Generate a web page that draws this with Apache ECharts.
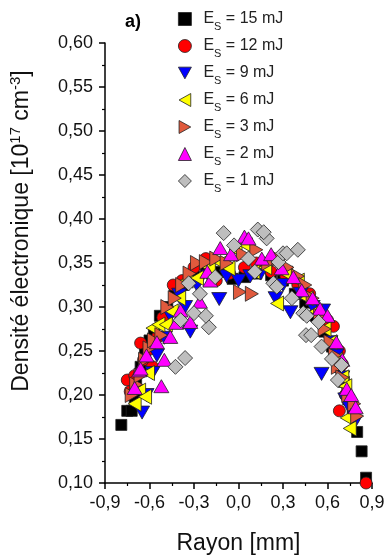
<!DOCTYPE html>
<html>
<head>
<meta charset="utf-8">
<script src="https://cdn.jsdelivr.net/npm/echarts@6/dist/echarts.min.js"></script>
<style>html,body{margin:0;padding:0;background:#fff}#c{width:388px;height:560px}</style>
</head>
<body>
<div id="c"></div>
<script>
const seriesNames = ['15 mJ', '12 mJ', '9 mJ', '6 mJ', '3 mJ', '2 mJ', '1 mJ'];
const xTicks = [-0.9, -0.6, -0.3, 0.0, 0.3, 0.6, 0.9];
const yTicks = [0.10, 0.15, 0.20, 0.25, 0.30, 0.35, 0.40, 0.45, 0.50, 0.55, 0.60];

const s15 = [[-0.79,0.166],[-0.75,0.182],[-0.72,0.182],[-0.70,0.197],[-0.69,0.212],[-0.66,0.232],[-0.63,0.25],[-0.60,0.262],[-0.57,0.27],[-0.53,0.29],[-0.48,0.30],[-0.43,0.315],[-0.37,0.325],[-0.30,0.335],[-0.22,0.342],[-0.12,0.34],[-0.04,0.332],[0.04,0.334],[0.12,0.338],[0.22,0.336],[0.30,0.33],[0.38,0.315],[0.45,0.305],[0.52,0.29],[0.58,0.272],[0.63,0.255],[0.68,0.232],[0.71,0.215],[0.74,0.195],[0.77,0.18],[0.80,0.158],[0.83,0.136],[0.86,0.106]];
const s12 = [[-0.75,0.217],[-0.73,0.204],[-0.70,0.222],[-0.66,0.259],[-0.64,0.24],[-0.60,0.252],[-0.58,0.232],[-0.55,0.265],[-0.51,0.288],[-0.44,0.325],[-0.38,0.33],[-0.30,0.345],[-0.22,0.355],[-0.15,0.33],[-0.06,0.338],[0.04,0.345],[0.12,0.35],[0.22,0.34],[0.32,0.335],[0.40,0.325],[0.48,0.315],[0.54,0.295],[0.60,0.285],[0.64,0.278],[0.68,0.25],[0.70,0.235],[0.68,0.182],[0.72,0.2],[0.76,0.19],[0.86,0.100]];
const s9 = [[-0.65,0.18],[-0.62,0.2],[-0.58,0.225],[-0.55,0.245],[-0.50,0.265],[-0.46,0.29],[-0.40,0.314],[-0.36,0.30],[-0.325,0.272],[-0.28,0.325],[-0.20,0.335],[-0.13,0.309],[-0.08,0.335],[0.0,0.33],[0.08,0.335],[0.15,0.338],[0.25,0.31],[0.30,0.325],[0.35,0.294],[0.42,0.315],[0.50,0.30],[0.57,0.296],[0.56,0.224],[0.62,0.26],[0.66,0.245],[0.70,0.22],[0.72,0.195],[0.75,0.185],[0.78,0.168]];
const s6 = [[-0.70,0.19],[-0.67,0.205],[-0.63,0.198],[-0.61,0.225],[-0.58,0.276],[-0.54,0.28],[-0.49,0.28],[-0.45,0.295],[-0.40,0.31],[-0.35,0.33],[-0.28,0.333],[-0.20,0.345],[-0.12,0.35],[-0.067,0.344],[-0.02,0.365],[0.05,0.37],[0.10,0.34],[0.18,0.345],[0.26,0.304],[0.32,0.338],[0.40,0.33],[0.46,0.31],[0.52,0.295],[0.58,0.275],[0.62,0.26],[0.66,0.24],[0.70,0.22],[0.72,0.21],[0.73,0.174],[0.75,0.162]];
const s3 = [[-0.72,0.2],[-0.69,0.212],[-0.66,0.222],[-0.63,0.24],[-0.60,0.253],[-0.57,0.262],[-0.52,0.268],[-0.48,0.3],[-0.43,0.31],[-0.38,0.325],[-0.33,0.338],[-0.28,0.35],[-0.22,0.351],[-0.15,0.355],[-0.08,0.35],[0.01,0.317],[0.03,0.36],[0.09,0.315],[0.12,0.365],[0.20,0.35],[0.27,0.355],[0.33,0.345],[0.40,0.335],[0.45,0.325],[0.50,0.31],[0.55,0.29],[0.58,0.275],[0.62,0.26],[0.65,0.245],[0.67,0.232],[0.70,0.22],[0.74,0.2],[0.78,0.19],[0.80,0.176]];
const s2 = [[-0.70,0.208],[-0.67,0.228],[-0.66,0.23],[-0.62,0.245],[-0.52,0.21],[-0.55,0.26],[-0.50,0.24],[-0.46,0.266],[-0.42,0.282],[-0.39,0.296],[-0.325,0.283],[-0.26,0.306],[-0.21,0.34],[-0.19,0.33],[-0.123,0.367],[-0.05,0.36],[0.04,0.38],[0.067,0.378],[0.157,0.355],[0.22,0.36],[0.29,0.344],[0.37,0.334],[0.426,0.319],[0.50,0.31],[0.55,0.298],[0.60,0.29],[0.66,0.26],[0.70,0.24],[0.73,0.207],[0.76,0.2],[0.79,0.186]];
const s1 = [[-0.425,0.232],[-0.36,0.242],[-0.39,0.285],[-0.336,0.327],[-0.30,0.293],[-0.26,0.315],[-0.20,0.277],[-0.22,0.29],[-0.157,0.334],[-0.10,0.384],[-0.03,0.37],[0.067,0.355],[0.11,0.34],[0.13,0.388],[0.19,0.378],[0.17,0.385],[0.235,0.327],[0.258,0.323],[0.27,0.351],[0.30,0.361],[0.325,0.361],[0.36,0.31],[0.40,0.365],[0.437,0.293],[0.46,0.29],[0.455,0.268],[0.49,0.268],[0.54,0.283],[0.56,0.255],[0.63,0.241],[0.67,0.217],[0.695,0.234]];

const seriesData = [s15, s12, s9, s6, s3, s2, s1];
const colors = ['#000000', '#FF0000', '#0000FF', '#FFFF00', '#E05A3D', '#FF00FF', '#BEBEBE'];
const symbols = ['rect', 'circle', 'path://M0,0L10,0L5,9Z', 'path://M10,0L10,10L1,5Z', 'path://M0,0L9,5L0,10Z', 'triangle', 'diamond'];
const sizes = [11, 12, [15, 13], [13, 15], [13, 15], [15, 13], 15];

const FONT = "'Liberation Sans', Arial, sans-serif";
const chart = echarts.init(document.getElementById('c'), null, {renderer: 'canvas'});

const series = seriesNames.map((n, i) => ({
  name: n,
  type: 'scatter',
  data: seriesData[i],
  symbol: symbols[i],
  symbolSize: sizes[i],
  itemStyle: {color: colors[i], borderColor: '#222', borderWidth: 0.8, opacity: 1},
  emphasis: {disabled: true},
  z: 2 + i
}));

chart.setOption({
  animation: false,
  backgroundColor: '#fff',
  title: {
    text: 'a)', left: 120, top: 8,
    textStyle: {fontFamily: FONT, fontWeight: 'bold', fontSize: 18, color: '#000'}
  },
  legend: {
    orient: 'vertical',
    left: 173, top: 6,
    itemWidth: 13, itemHeight: 13, itemGap: 6,
    data: seriesNames.map((n, i) => ({name: n, icon: symbols[i]})),
    itemStyle: {borderColor: '#222', borderWidth: 0.8},
    formatter: name => '{e|E}{s|S}{t| = ' + name + '}',
    textStyle: {
      fontFamily: FONT, color: '#222',
      rich: {
        e: {fontSize: 16, fontFamily: FONT, color: '#222', lineHeight: 20, padding: [0, 0, 0, 7]},
        s: {fontSize: 11, fontFamily: FONT, color: '#222', lineHeight: 11, verticalAlign: 'bottom', padding: [0,0,-3,0]},
        t: {fontSize: 16, fontFamily: FONT, color: '#222', lineHeight: 20}
      }
    },
    selectedMode: false
  },
  grid: {left: 105, right: 16, top: 43, bottom: 77, containLabel: false},
  graphic: [{
    type: 'text',
    x: 22, y: 231, rotation: Math.PI / 2,
    style: {
      text: '{a|Densité électronique [10}{p|17}{a| cm}{p|-3}{a|]}',
      align: 'center', verticalAlign: 'middle',
      rich: {
        a: {fontFamily: FONT, fontSize: 23, fill: '#111', lineHeight: 27},
        p: {fontFamily: FONT, fontSize: 15, fill: '#111', lineHeight: 15, verticalAlign: 'top'}
      }
    }
  }],
  xAxis: {
    type: 'value', min: xTicks[0], max: xTicks[xTicks.length - 1], interval: 0.3,
    name: 'Rayon [mm]', nameLocation: 'middle', nameGap: 49,
    nameTextStyle: {fontFamily: FONT, fontSize: 23, color: '#111'},
    axisLine: {show: true, onZero: false, lineStyle: {color: '#000', width: 1.5}},
    axisTick: {show: true, inside: false, length: 6, lineStyle: {color: '#000', width: 1.5}},
    minorTick: {show: true, splitNumber: 2, length: 3, lineStyle: {color: '#000', width: 1.2}},
    splitLine: {show: false},
    axisLabel: {
      fontFamily: FONT, fontSize: 18, color: '#111', margin: 11,
      formatter: v => (Math.abs(v) < 1e-9 ? 0 : v).toFixed(1).replace('.', ',')
    }
  },
  yAxis: {
    type: 'value', min: yTicks[0], max: yTicks[yTicks.length - 1], interval: 0.05,
    axisLine: {show: true, onZero: false, lineStyle: {color: '#000', width: 1.5}},
    axisTick: {show: true, inside: false, length: 6, lineStyle: {color: '#000', width: 1.5}},
    minorTick: {show: true, splitNumber: 2, length: 3, lineStyle: {color: '#000', width: 1.2}},
    splitLine: {show: false},
    axisLabel: {
      fontFamily: FONT, fontSize: 18, color: '#111', margin: 12,
      formatter: v => v.toFixed(2).replace('.', ',')
    }
  },
  series: series
});
</script>
</body>
</html>
